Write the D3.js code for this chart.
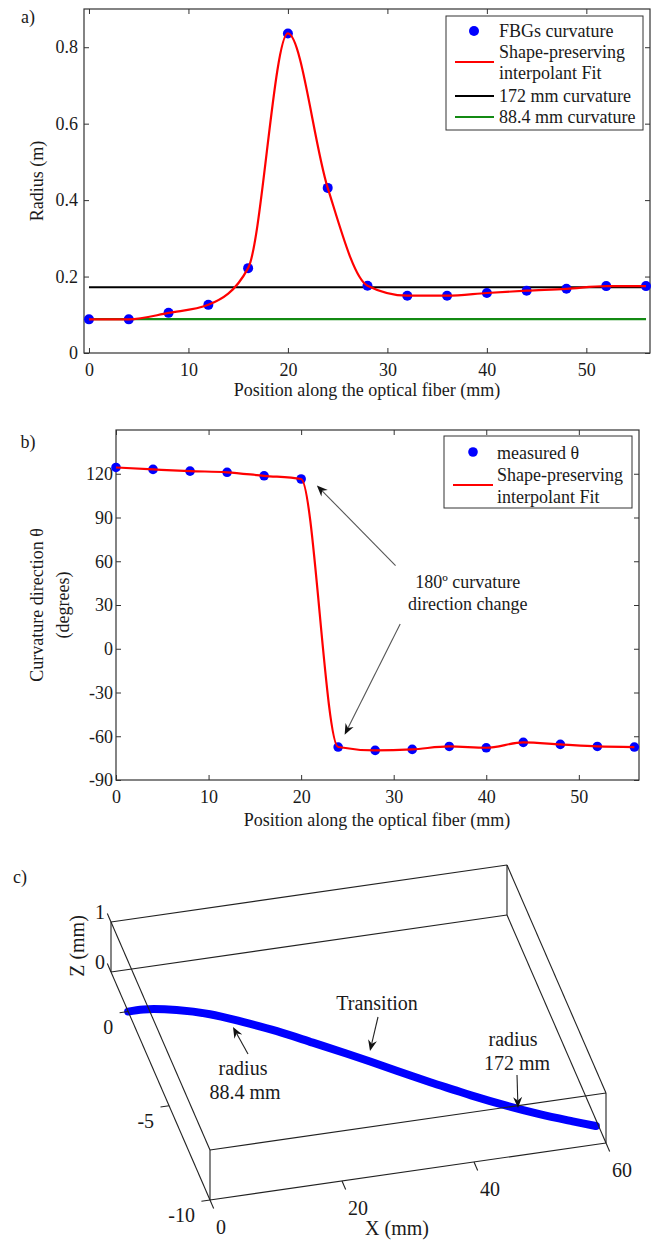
<!DOCTYPE html>
<html>
<head>
<meta charset="utf-8">
<script src="https://cdn.jsdelivr.net/npm/d3@7"></script>
<style>
  body { margin: 0; background: #fff; }
  svg { display: block; }
</style>
</head>
<body>
<svg id="chart" width="656" height="1241" font-family="Liberation Serif, Times New Roman, serif"></svg>
<script>
'use strict'

// ---- data ----
// a) radius from the FBGs
const positionA = [0, 4, 8, 12, 16, 20, 24, 28, 32, 36, 40, 44, 48, 52, 56]
const radiusA = [0.088, 0.088, 0.105, 0.126, 0.222, 0.836, 0.432, 0.176, 0.150, 0.150, 0.157, 0.163, 0.168, 0.175, 0.175]
const refRadius172 = 0.172
const refRadius884 = 0.0884
const refSpan = [0, 56]

// b) curvature direction
const positionB = [0, 4, 8, 12, 16, 20, 24, 28, 32, 36, 40, 44, 48, 52, 56]
const thetaB = [124.3, 123, 121.8, 121, 118.6, 116.4, -67.4, -69.7, -69, -67, -67.9, -64.2, -65.6, -67, -67.4]

// c) reconstructed fiber shape (mm)
const fiberX = [0, 2.3, 7, 11.5, 15.8, 20, 24.4, 28.6, 31.5, 34.7, 38.7, 41.6, 43.7, 48, 52.3, 56.6, 59.6]
const fiberY = [0, 0, -0.27, -0.72, -1.36, -2.05, -2.88, -3.68, -4.25, -4.9, -5.7, -6.25, -6.65, -7.4, -8.08, -8.68, -9.08]

// tick values
const ticksAx = [0, 10, 20, 30, 40, 50]
const ticksAy = [0, 0.2, 0.4, 0.6, 0.8]
const ticksBx = [0, 10, 20, 30, 40, 50]
const ticksBy = [-90, -60, -30, 0, 30, 60, 90, 120]
const ticksCx = [0, 20, 40, 60]
const ticksCy = [-10, -5, 0]
const ticksCz = [0, 1]

const AXIS = '#333'
const TEXT = '#1a1a1a'
const svg = d3.select('#chart')
svg.append('rect').attr('width', 656).attr('height', 1241).attr('fill', '#fff')

// box with inward ticks on all four sides, like matlab
function drawFrame(x, y, xTicks, yTicks, yFmt, yPad) {
    const [x0, x1] = x.range()
    const [y0, y1] = y.range()
    const g = svg.append('g')
    const styleAxis = (a) => {
        a.attr('font-family', null).attr('font-size', 18)
        a.select('.domain').remove()
        a.selectAll('.tick line').attr('stroke', AXIS)
        a.selectAll('.tick text').attr('fill', TEXT)
    }
    g.append('g').attr('transform', `translate(0,${y0})`)
        .call(d3.axisBottom(x).tickValues(xTicks).tickSizeInner(-5).tickSizeOuter(0).tickPadding(10))
        .call(styleAxis)
    g.append('g').attr('transform', `translate(0,${y1})`)
        .call(d3.axisTop(x).tickValues(xTicks).tickSizeInner(-5).tickSizeOuter(0).tickFormat(''))
        .call(styleAxis)
    g.append('g').attr('transform', `translate(${x0},0)`)
        .call(d3.axisLeft(y).tickValues(yTicks).tickSizeInner(-5).tickSizeOuter(0).tickPadding(yPad).tickFormat(yFmt))
        .call(styleAxis)
    g.append('g').attr('transform', `translate(${x1},0)`)
        .call(d3.axisRight(y).tickValues(yTicks).tickSizeInner(-5).tickSizeOuter(0).tickFormat(''))
        .call(styleAxis)
    g.append('rect')
        .attr('x', x0).attr('y', y1)
        .attr('width', x1 - x0).attr('height', y0 - y1)
        .attr('fill', 'none').attr('stroke', AXIS).attr('stroke-width', 1.2)
    return g
}

function text(g, x, y, str, size, anchor) {
    return g.append('text')
        .attr('x', x).attr('y', y)
        .attr('font-size', size || 18)
        .attr('text-anchor', anchor || 'start')
        .attr('dominant-baseline', 'central')
        .attr('fill', TEXT)
        .text(str)
}

// matlab-ish arrow: thin line, filled notched head
function arrow(g, from, to, lineColor) {
    const dx = to[0] - from[0], dy = to[1] - from[1]
    const len = Math.hypot(dx, dy)
    const ux = dx / len, uy = dy / len
    const nx = -uy, ny = ux
    const L = 11, W = 4.5, N = 3.5
    g.append('line')
        .attr('x1', from[0]).attr('y1', from[1])
        .attr('x2', to[0] - ux * (L - N)).attr('y2', to[1] - uy * (L - N))
        .attr('stroke', lineColor || '#555').attr('stroke-width', 1.1)
    const head = [
        [to[0], to[1]],
        [to[0] - ux * L + nx * W, to[1] - uy * L + ny * W],
        [to[0] - ux * (L - N), to[1] - uy * (L - N)],
        [to[0] - ux * L - nx * W, to[1] - uy * L - ny * W],
    ]
    g.append('path').attr('d', 'M' + head.join('L') + 'Z').attr('fill', '#111')
}

// ---------------- panel a ----------------
const xA = d3.scaleLinear().domain([-0.5, 56.4]).range([84, 650])
const yA = d3.scaleLinear().domain([0, 0.9]).range([353, 9])
const gA = drawFrame(xA, yA, ticksAx, ticksAy, (d) => String(d), 6)

const dataA = positionA.map((p, i) => [p, radiusA[i]])
const lineA = d3.line().x((d) => xA(d[0])).y((d) => yA(d[1])).curve(d3.curveMonotoneX)

gA.append('line')
    .attr('x1', xA(refSpan[0])).attr('x2', xA(refSpan[1]))
    .attr('y1', yA(refRadius884)).attr('y2', yA(refRadius884))
    .attr('stroke', '#138a13').attr('stroke-width', 2.2)
gA.append('line')
    .attr('x1', xA(refSpan[0])).attr('x2', xA(refSpan[1]) + 4)
    .attr('y1', yA(refRadius172)).attr('y2', yA(refRadius172))
    .attr('stroke', '#000').attr('stroke-width', 2.2)
gA.append('g').selectAll('circle').data(dataA).join('circle')
    .attr('cx', (d) => xA(d[0])).attr('cy', (d) => yA(d[1]))
    .attr('r', 5).attr('fill', '#0000ff')
gA.append('path').attr('d', lineA(dataA))
    .attr('fill', 'none').attr('stroke', '#ff0000').attr('stroke-width', 2.2)

text(gA, 28, 17, 'a)', 18, 'middle')
text(gA, 37, 181, 'Radius (m)', 18, 'middle').attr('transform', 'rotate(-90,37,181)')
text(gA, 367, 390, 'Position along the optical fiber (mm)', 18, 'middle')

// legend a
const legA = gA.append('g')
legA.append('rect').attr('x', 446).attr('y', 16).attr('width', 197).attr('height', 114)
    .attr('fill', '#fff').attr('stroke', AXIS).attr('stroke-width', 1)
legA.append('circle').attr('cx', 474).attr('cy', 31).attr('r', 5).attr('fill', '#0000ff')
legA.append('line').attr('x1', 455).attr('x2', 494).attr('y1', 62).attr('y2', 62)
    .attr('stroke', '#ff0000').attr('stroke-width', 2.2)
legA.append('line').attr('x1', 455).attr('x2', 494).attr('y1', 96).attr('y2', 96)
    .attr('stroke', '#000').attr('stroke-width', 2.2)
legA.append('line').attr('x1', 455).attr('x2', 494).attr('y1', 117).attr('y2', 117)
    .attr('stroke', '#138a13').attr('stroke-width', 2.2)
text(legA, 499, 31, 'FBGs curvature')
text(legA, 499, 52, 'Shape-preserving')
text(legA, 499, 73, 'interpolant Fit')
text(legA, 499, 96, '172 mm curvature')
text(legA, 499, 117, '88.4 mm curvature')

// ---------------- panel b ----------------
const xB = d3.scaleLinear().domain([0, 56.5]).range([116, 639])
const yB = d3.scaleLinear().domain([-90, 150]).range([780, 430])
const gB = drawFrame(xB, yB, ticksBx, ticksBy, (d) => String(d), 3)

const dataB = positionB.map((p, i) => [p, thetaB[i]])
const lineB = d3.line().x((d) => xB(d[0])).y((d) => yB(d[1])).curve(d3.curveMonotoneX)

gB.append('g').selectAll('circle').data(dataB).join('circle')
    .attr('cx', (d) => xB(d[0])).attr('cy', (d) => yB(d[1]))
    .attr('r', 4.8).attr('fill', '#0000ff')
gB.append('path').attr('d', lineB(dataB))
    .attr('fill', 'none').attr('stroke', '#ff0000').attr('stroke-width', 2.2)

text(gB, 28, 442, 'b)', 18, 'middle')
text(gB, 37, 605, 'Curvature direction θ', 18, 'middle').attr('transform', 'rotate(-90,37,605)')
text(gB, 63, 605, '(degrees)', 18, 'middle').attr('transform', 'rotate(-90,63,605)')
text(gB, 377, 820, 'Position along the optical fiber (mm)', 18, 'middle')

// annotation, placed in data units
text(gB, xB(38), yB(46), '180º curvature', 18, 'middle')
text(gB, xB(38), yB(30.5), 'direction change', 18, 'middle')
arrow(gB, [xB(30.2), yB(57)], [xB(21.7), yB(112)])
arrow(gB, [xB(30.7), yB(17)], [xB(24.7), yB(-59)])

// legend b
const legB = gB.append('g')
legB.append('rect').attr('x', 444).attr('y', 436).attr('width', 188).attr('height', 72)
    .attr('fill', '#fff').attr('stroke', AXIS).attr('stroke-width', 1)
legB.append('circle').attr('cx', 473).attr('cy', 452).attr('r', 4.8).attr('fill', '#0000ff')
legB.append('line').attr('x1', 453).attr('x2', 493).attr('y1', 485).attr('y2', 485)
    .attr('stroke', '#ff0000').attr('stroke-width', 2.2)
text(legB, 497, 453, 'measured θ')
text(legB, 497, 475, 'Shape-preserving')
text(legB, 497, 497, 'interpolant Fit')

// ---------------- panel c (3-D box, orthographic view) ----------------
const xLimC = [0, 60]
const yLimC = [-10, 2.1]
const zLimC = [0, 1]
const cX = d3.scaleLinear().domain(xLimC).range([0, 1])
const cY = d3.scaleLinear().domain(yLimC).range([0, 1])
const cZ = d3.scaleLinear().domain(zLimC).range([0, 1])
// screen position of (xmin, ymin, zmin) and the screen vectors of the three box edges
const viewOrigin = [210, 1200]
const xEdge = [396, -57]
const yEdge = [-99, -228]
const zEdge = [0, -50]

function project(x, y, z) {
    const a = cX(x), b = cY(y), c = cZ(z)
    return [
        viewOrigin[0] + a * xEdge[0] + b * yEdge[0] + c * zEdge[0],
        viewOrigin[1] + a * xEdge[1] + b * yEdge[1] + c * zEdge[1],
    ]
}

const gC = svg.append('g')

// fiber
const fiberPts = fiberX.map((x, i) => project(x, fiberY[i], 0))
gC.append('path')
    .attr('d', d3.line().curve(d3.curveCatmullRom)(fiberPts))
    .attr('fill', 'none').attr('stroke', '#0000ff')
    .attr('stroke-width', 8).attr('stroke-linecap', 'round')

// box edges
const corners = d3.cross(xLimC, d3.cross(yLimC, zLimC)).map(([x, [y, z]]) => [x, y, z])
const edges = []
corners.forEach((p, i) => corners.forEach((q, j) => {
    if (j <= i) return
    const diff = p.filter((v, k) => v !== q[k]).length
    if (diff === 1) edges.push([p, q])
}))
gC.append('g').selectAll('line').data(edges).join('line')
    .attr('x1', (d) => project(...d[0])[0]).attr('y1', (d) => project(...d[0])[1])
    .attr('x2', (d) => project(...d[1])[0]).attr('y2', (d) => project(...d[1])[1])
    .attr('stroke', '#222').attr('stroke-width', 1.1)

// ticks
const tickLine = (a, b) => gC.append('line')
    .attr('x1', a[0]).attr('y1', a[1]).attr('x2', b[0]).attr('y2', b[1])
    .attr('stroke', '#222').attr('stroke-width', 1.1)

ticksCx.forEach((t) => {
    const a = project(t, yLimC[0], zLimC[0])
    const b = project(t, yLimC[0] - 0.45, zLimC[0])
    tickLine(a, b)
    text(gC, a[0] + 6, a[1] + 27, String(t), 20, 'start')
})
ticksCy.forEach((t) => {
    const a = project(xLimC[0], t, zLimC[0])
    const b = project(xLimC[0] - 1.3, t, zLimC[0])
    tickLine(a, b)
    text(gC, a[0] - 15, a[1] + 15, String(t), 20, 'end')
})
ticksCz.forEach((t) => {
    const a = project(xLimC[0], yLimC[1], t)
    const b = project(xLimC[0], yLimC[1] + 0.45, t)
    tickLine(a, b)
    text(gC, a[0] - 6, a[1] - 10, String(t), 20, 'end')
})

text(gC, 20, 877, 'c)', 18, 'middle')
text(gC, 77, 946, 'Z (mm)', 20, 'middle').attr('transform', 'rotate(-90,77,946)')
text(gC, 397, 1228, 'X (mm)', 20, 'middle')

// annotations on the fiber
text(gC, 377, 1003, 'Transition', 20, 'middle')
arrow(gC, [378, 1017], [370, 1051], '#222')
text(gC, 513, 1039, 'radius', 20, 'middle')
text(gC, 517, 1063, '172 mm', 20, 'middle')
arrow(gC, [517, 1075], [518, 1108], '#222')
text(gC, 243, 1068, 'radius', 20, 'middle')
text(gC, 245, 1092, '88.4 mm', 20, 'middle')
arrow(gC, [248, 1054], [233, 1027], '#222')
</script>
</body>
</html>
